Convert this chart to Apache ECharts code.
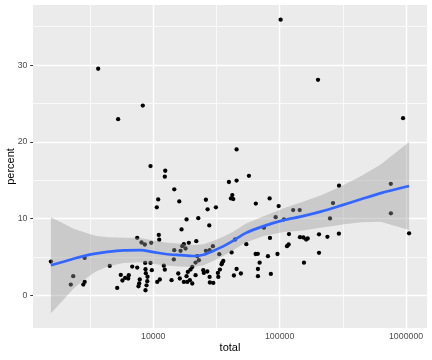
<!DOCTYPE html>
<html>
<head>
<meta charset="utf-8">
<script src="https://cdn.jsdelivr.net/npm/echarts@6/dist/echarts.min.js"></script>
<style>
html,body{margin:0;padding:0;background:#fff;}
#c{width:432px;height:360px;}
</style>
</head>
<body>
<div id="c"></div>
<script>
// ---- data ----
const total = [
  1552, 2330, 2230, 2870, 2870, 2800, 3670, 4530, 5190, 5280,
  5540, 5710, 6000, 6410, 6340, 6820, 7470, 7650, 7750, 7830,
  7470, 8080, 8580, 9640, 8270, 8640, 9520, 8690, 8740, 9010,
  9750, 8970, 8850, 8690, 9520, 11070, 11160, 10950, 10680, 11280,
  10760, 12450, 12350, 12130, 12350, 14670, 16070, 26090, 26920, 31300,
  18350, 22720, 27760, 16750, 14670, 16970, 17470, 18020, 16450, 19130,
  21910, 29640, 27920, 26090, 33310, 22310, 22960, 21620, 14560, 35180,
  13960, 15780, 16240, 17470, 18590, 18790, 19740, 20360, 19490, 20360,
  21620, 24880, 25150, 26770, 27920, 28060, 29860, 32470, 33680, 32700,
  18350, 39690, 45640, 57140, 41160, 42220, 42990, 45640, 64790, 83330,
  98200, 92960, 108150, 127900, 144000, 75100, 83800, 118500, 114300, 117800,
  144800, 154000, 162100, 166600, 54490, 44420, 41690, 35830, 34730, 64570,
  67200, 69440, 80800, 96070, 45640, 67330, 43470, 49380, 67330, 85190,
  155700, 101800, 204800, 238600, 204800, 250200, 264200, 294800, 294000, 201000,
  756700, 758000, 1056000, 946700
];
const percent = [
  4.43, 2.52, 1.43, 4.90, 1.77, 1.43, 29.52, 3.86, 0.99, 22.96,
  2.69, 1.96, 2.30, 2.65, 2.22, 3.78, 3.65, 1.21, 1.57, 2.09,
  7.51, 6.91, 6.65, 6.86, 24.73, 4.25, 4.25, 3.43, 2.91, 2.45,
  3.30, 1.87, 1.34, 0.69, 16.86, 7.90, 7.28, 12.52, 11.48, 2.09,
  1.77, 16.25, 15.47, 3.89, 3.37, 13.83, 12.26, 12.47, 11.22, 11.48,
  9.91, 10.08, 9.13, 8.61, 5.91, 6.43, 6.69, 6.13, 5.82, 6.86,
  7.08, 6.43, 5.91, 5.82, 5.39, 5.13, 4.60, 4.30, 4.70, 4.30,
  2.00, 2.87, 2.22, 1.77, 1.77, 3.08, 3.39, 3.73, 2.00, 1.57,
  2.65, 3.30, 2.95, 3.13, 2.43, 1.70, 1.64, 2.95, 3.39, 2.43,
  2.52, 14.78, 14.97, 15.59, 12.65, 13.08, 12.56, 19.02, 11.97, 12.65,
  11.65, 10.21, 9.91, 11.13, 11.13, 8.84, 7.50, 8.00, 6.43, 6.65,
  7.60, 7.56, 7.30, 7.43, 6.69, 7.30, 5.61, 4.51, 4.08, 5.41,
  5.43, 4.28, 5.13, 5.41, 3.46, 3.46, 2.61, 2.87, 2.52, 2.82,
  4.28, 35.91, 7.97, 7.64, 5.56, 10.04, 12.04, 14.30, 8.06, 28.08,
  14.54, 10.70, 8.10, 23.09
];
// smoother (loess) fit and its confidence band
const smoothTotal = [1552, 1949, 2339, 2806, 3493, 4347, 5819, 7930, 10060, 12520, 16450, 20850, 25020, 30020, 35380, 42450, 53800, 74690, 107600, 146700, 211200, 304100, 437800, 630500, 1056000];
const smoothFit   = [3.95, 4.41, 4.80, 5.13, 5.45, 5.69, 5.88, 5.91, 5.65, 5.41, 5.26, 5.15, 5.32, 5.84, 6.37, 7.08, 8.13, 9.04, 9.82, 10.28, 10.93, 11.71, 12.53, 13.34, 14.26];
const smoothLower = [-2.31, -0.55, 0.89, 2.00, 3.10, 3.80, 4.25, 4.34, 4.12, 3.91, 3.79, 3.72, 3.95, 4.54, 5.13, 5.87, 6.92, 7.74, 8.29, 8.45, 8.84, 9.23, 9.53, 9.62, 8.52];
const smoothUpper = [10.21, 9.37, 8.71, 8.26, 7.80, 7.58, 7.51, 7.48, 7.18, 6.91, 6.73, 6.58, 6.69, 7.14, 7.61, 8.29, 9.34, 10.34, 11.35, 12.11, 13.02, 14.19, 15.53, 17.06, 20.00];
const xTicks = [10000, 100000, 1000000];
const yTicks = [0, 10, 20, 30];

// ---- build ----
const L = Math.log10;
const xs = total.map(L);
const sx = smoothTotal.map(L);
const xLo = Math.min(...xs), xHi = Math.max(...xs);
const xPad = 0.05 * (xHi - xLo);
const yAll = percent.concat(smoothLower, smoothUpper);
const yLo = Math.min(...yAll), yHi = Math.max(...yAll);
const yPad = 0.05 * (yHi - yLo);

const xMajor = xTicks.map(L);
const xMinor = [];
for (let i = 0; i < xMajor.length - 1; i++) xMinor.push((xMajor[i] + xMajor[i + 1]) / 2);
xMinor.unshift(xMajor[0] - 0.5);
const yMinor = [];
for (let i = 0; i < yTicks.length - 1; i++) yMinor.push((yTicks[i] + yTicks[i + 1]) / 2);
yMinor.push(yTicks[yTicks.length - 1] + 5);

const FONT = 'Liberation Sans, Arial, Helvetica, sans-serif';

function gridLines(vals, key, w) {
  return vals.map(v => ({ [key]: v, lineStyle: { color: '#FFFFFF', width: w, type: 'solid' } }));
}

const chart = echarts.init(document.getElementById('c'), null, { renderer: 'canvas' });
chart.setOption({
  animation: false,
  backgroundColor: '#FFFFFF',
  textStyle: { fontFamily: FONT },
  grid: {
    left: 33, right: 5, top: 5, bottom: 32,
    containLabel: false, outerBoundsMode: 'none',
    show: true, backgroundColor: '#EBEBEB', borderWidth: 0
  },
  xAxis: {
    type: 'value',
    min: xLo - xPad, max: xHi + xPad,
    name: 'total', nameLocation: 'middle', nameGap: 14, nameMoveOverlap: false,
    nameTextStyle: { color: '#000000', fontSize: 11, fontFamily: FONT },
    axisLine: { show: false },
    axisTick: { show: true, length: 2.75, customValues: xMajor, lineStyle: { color: '#333333', width: 1 } },
    axisLabel: {
      customValues: xMajor, margin: 4.5, color: '#4D4D4D', fontSize: 8.8, fontFamily: FONT,
      formatter: v => String(Math.round(Math.pow(10, v)))
    },
    splitLine: { show: false }
  },
  yAxis: {
    type: 'value',
    min: yLo - yPad, max: yHi + yPad,
    name: 'percent', nameLocation: 'middle', nameGap: 17, nameMoveOverlap: false,
    nameTextStyle: { color: '#000000', fontSize: 11, fontFamily: FONT },
    axisLine: { show: false },
    axisTick: { show: true, length: 2.75, customValues: yTicks, lineStyle: { color: '#333333', width: 1 } },
    axisLabel: { customValues: yTicks, margin: 5.5, color: '#4D4D4D', fontSize: 8.8, fontFamily: FONT },
    splitLine: { show: false }
  },
  series: [
    {
      type: 'line', data: [], z: 1, silent: true,
      markLine: {
        z: 1, zlevel: 0,
        silent: true, symbol: ['none', 'none'], label: { show: false }, animation: false,
        emphasis: { disabled: true },
        data: [].concat(
          gridLines(xMinor, 'xAxis', 0.7),
          gridLines(yMinor, 'yAxis', 0.7),
          gridLines(xMajor, 'xAxis', 1.4),
          gridLines(yTicks, 'yAxis', 1.4)
        )
      }
    },
    {
      type: 'scatter', z: 2, silent: true,
      symbol: 'circle', symbolSize: 4.3,
      itemStyle: { color: '#000000', opacity: 1 },
      data: xs.map((x, i) => [x, percent[i]])
    },
    {
      type: 'custom', z: 3, silent: true,
      data: sx.map((x, i) => [x, smoothLower[i], smoothUpper[i]]),
      encode: { x: 0, y: [1, 2] },
      renderItem: function (params, api) {
        if (params.dataIndex !== 0) return null;
        const pts = [];
        for (let i = 0; i < sx.length; i++) pts.push(api.coord([sx[i], smoothUpper[i]]));
        for (let i = sx.length - 1; i >= 0; i--) pts.push(api.coord([sx[i], smoothLower[i]]));
        return { type: 'polygon', shape: { points: pts }, style: { fill: 'rgba(153,153,153,0.4)', stroke: null } };
      }
    },
    {
      type: 'line', z: 4, silent: true,
      showSymbol: false, smooth: 0.3,
      lineStyle: { color: '#3366FF', width: 2.7 },
      data: sx.map((x, i) => [x, smoothFit[i]])
    }
  ]
});
</script>
</body>
</html>
